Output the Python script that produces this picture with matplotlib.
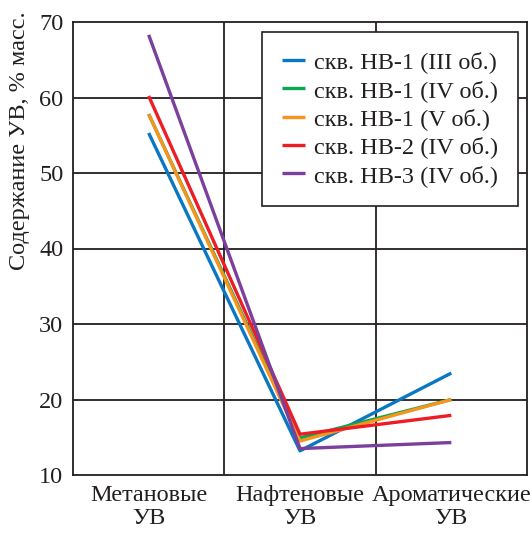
import matplotlib
matplotlib.use("Agg")
import matplotlib.pyplot as plt

categories = ["Метановые\nУВ", "Нафтеновые\nУВ", "Ароматические\nУВ"]
series_names = [
    "скв. НВ-1 (III об.)",
    "скв. НВ-1 (IV об.)",
    "скв. НВ-1 (V об.)",
    "скв. НВ-2 (IV об.)",
    "скв. НВ-3 (IV об.)",
]
nv1_iii = [55.3, 13.2, 23.5]
nv1_iv = [57.8, 14.9, 20.0]
nv1_v = [57.8, 14.5, 20.0]
nv2_iv = [60.2, 15.4, 17.9]
nv3_iv = [68.3, 13.5, 14.3]
yticks = [10, 20, 30, 40, 50, 60, 70]

colors = ["#0A77C2", "#0BA650", "#F7941D", "#EE1C25", "#7B3F9C"]
ink = "#231F20"
fs = 17.5

plt.rcParams["font.family"] = ["Liberation Serif", "DejaVu Serif"]

W, H = 532, 534
fig = plt.figure(figsize=(W / 100, H / 100), dpi=100)
ax = fig.add_axes([73 / W, 1 - 475 / H, 454 / W, 453 / H])

x = list(range(len(categories)))
for vals, name, c in zip([nv1_iii, nv1_iv, nv1_v, nv2_iv, nv3_iv], series_names, colors):
    ax.plot(x, vals, color=c, lw=2.4, label=name, solid_capstyle="butt", zorder=3)

ax.set_xlim(-0.5, 2.5)
ax.set_ylim(10, 70)
ax.set_yticks(yticks)
ax.set_xticks(x)
ax.set_xticklabels(categories, fontsize=fs, linespacing=1.15)
ax.tick_params(axis="both", length=0, labelsize=fs, colors=ink)
ax.tick_params(axis="y", pad=7)
ax.tick_params(axis="x", pad=7)

for v in yticks[1:-1]:
    ax.axhline(v, color=ink, lw=1.3, zorder=1)
for v in [0.5, 1.5]:
    ax.axvline(v, color=ink, lw=1.3, zorder=1)
for s in ax.spines.values():
    s.set_color(ink)
    s.set_linewidth(1.3)

fig.text(20 / W, 1 - 141 / H, "Содержание УВ, % масс.", fontsize=fs, color=ink,
         rotation=90, ha="center", va="center")

leg = ax.legend(loc="upper right", bbox_to_anchor=(518 / W, 1 - 32 / H),
                bbox_transform=fig.transFigure, fontsize=fs,
                frameon=True, fancybox=False, handlelength=0.95, handletextpad=0.4,
                borderpad=0.8, labelspacing=0.26, borderaxespad=0)
leg.get_frame().set_edgecolor(ink)
leg.get_frame().set_linewidth(1.2)
leg.get_frame().set_alpha(1)
for t in leg.get_texts():
    t.set_color(ink)

fig.savefig("out.png", dpi=100)
